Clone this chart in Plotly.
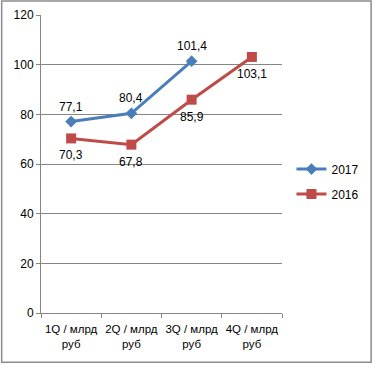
import plotly.graph_objects as go

categories = ["1Q / млрд<br>руб", "2Q / млрд<br>руб", "3Q / млрд<br>руб", "4Q / млрд<br>руб"]
values_2017 = [77.1, 80.4, 101.4, None]
values_2016 = [70.3, 67.8, 85.9, 103.1]
y_ticks = [0, 20, 40, 60, 80, 100, 120]

def fmt(v):
    return f"{v:.1f}".replace(".", ",")

FONT = "Liberation Sans, Arial, sans-serif"
BLUE = "#4A7EBB"
RED = "#BE4B48"

fig = go.Figure()
fig.add_trace(go.Scatter(
    x=categories, y=values_2017, name="2017", mode="lines+markers",
    line=dict(color=BLUE, width=3),
    marker=dict(symbol="diamond", size=9, color=BLUE),
    legendgroup="a",
))
fig.add_trace(go.Scatter(
    x=categories, y=values_2016, name="2016", mode="lines+markers",
    line=dict(color=RED, width=3),
    marker=dict(symbol="square", size=10, color=RED),
    legendgroup="b",
))

annotations = []
for cat, v in zip(categories, values_2017):
    if v is not None:
        annotations.append(dict(x=cat, y=v, xref="x", yref="y", text=fmt(v),
                                showarrow=False, yshift=15,
                                font=dict(family=FONT, size=12, color="#000000")))
for cat, v in zip(categories, values_2016):
    if v is not None:
        annotations.append(dict(x=cat, y=v, xref="x", yref="y", text=fmt(v),
                                showarrow=False, yshift=-17,
                                font=dict(family=FONT, size=12, color="#000000")))

fig.update_layout(
    width=375, height=365,
    margin=dict(l=41, r=92, t=15, b=52),
    paper_bgcolor="white", plot_bgcolor="white",
    font=dict(family=FONT, size=12, color="#000000"),
    showlegend=True,
    legend=dict(x=1.035, xanchor="left", y=0.441, yanchor="middle",
                traceorder="grouped", tracegroupgap=6,
                font=dict(family=FONT, size=12, color="#000000")),
    xaxis=dict(type="category", range=[-0.5, 3.5], showgrid=False,
               showline=True, linecolor="#868686", linewidth=1,
               ticks="outside", tickson="boundaries", ticklen=4, tickcolor="#868686",
               tickangle=0, automargin=False, ticklabelstandoff=5,
               tickfont=dict(family=FONT, size=11.5, color="#000000")),
    yaxis=dict(range=[0, 120], tickvals=y_ticks, showgrid=True, gridcolor="#868686",
               gridwidth=1, showline=True, linecolor="#868686", linewidth=1,
               ticks="outside", ticklen=4, tickcolor="#868686", zeroline=False,
               automargin=False,
               tickfont=dict(family=FONT, size=12, color="#000000")),
    annotations=annotations,
    shapes=[dict(type="rect", xref="paper", yref="paper",
                 x0=(1.5 - 41) / 242, x1=(372.5 - 41) / 242,
                 y0=(313.3 - 362.5) / 298.3, y1=(313.3 - 1) / 298.3,
                 line=dict(color="#8C8C8C", width=1.5), layer="below")],
)

fig.write_html("out.html", config={"displayModeBar": False},
               post_script="document.body.style.margin='0';document.body.style.overflow='hidden';")
